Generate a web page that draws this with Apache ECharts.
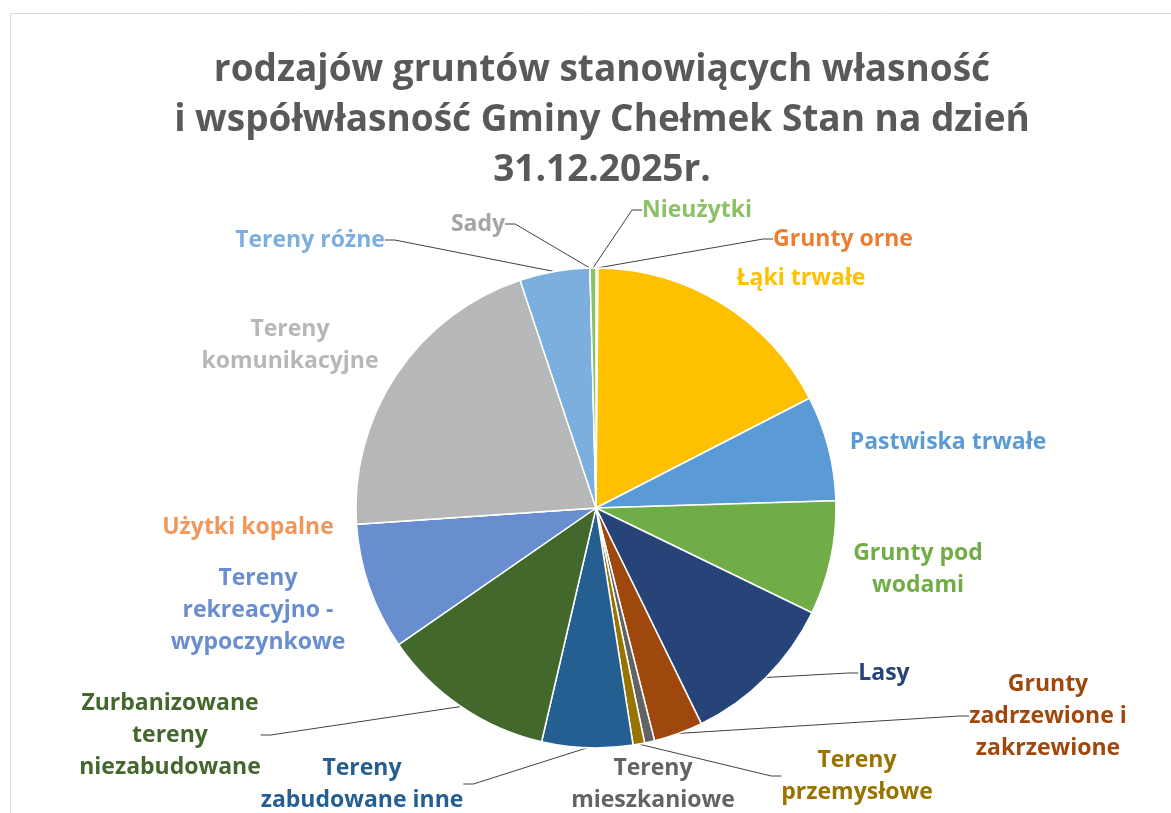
<!DOCTYPE html>
<html>
<head>
<meta charset="utf-8">
<script src="https://cdn.jsdelivr.net/npm/echarts@6/dist/echarts.min.js"></script>
<style>
  html, body { margin: 0; padding: 0; background: #fff; }
  #chart { width: 1171px; height: 813px; }
</style>
</head>
<body>
<div id="chart"></div>
<script>
// dane - udział procentowy
var categories = ['Grunty orne', 'Łąki trwałe', 'Pastwiska trwałe', 'Grunty pod wodami', 'Lasy',
  'Grunty zadrzewione i zakrzewione', 'Tereny mieszkaniowe', 'Tereny przemysłowe', 'Tereny zabudowane inne',
  'Zurbanizowane tereny niezabudowane', 'Tereny rekreacyjno - wypoczynkowe', 'Użytki kopalne',
  'Tereny komunikacyjne', 'Tereny różne', 'Sady', 'Nieużytki'];
var values = [0.14, 17.3, 7.08, 7.67, 10.58, 3.31, 0.67, 0.78, 6.11, 11.72, 8.56, 0, 20.96, 4.72, 0, 0.40];

// etykiety z podziałem na wiersze
var labelNames = ['Grunty orne', 'Łąki trwałe', 'Pastwiska trwałe', 'Grunty pod\nwodami', 'Lasy',
  'Grunty\nzadrzewione i\nzakrzewione', 'Tereny\nmieszkaniowe', 'Tereny\nprzemysłowe', 'Tereny\nzabudowane inne',
  'Zurbanizowane\ntereny\nniezabudowane', 'Tereny\nrekreacyjno -\nwypoczynkowe', 'Użytki kopalne',
  'Tereny\nkomunikacyjne', 'Tereny różne', 'Sady', 'Nieużytki'];

var colors = ['#ED7D31', '#FFC000', '#5B9BD5', '#70AD47', '#264478', '#9E480E', '#636363', '#997300',
  '#255E91', '#43682B', '#698ED0', '#F1975A', '#B7B7B7', '#7CAFDD', '#A5A5A5', '#8CC168'];

// pozycje etykiet (środek bloku tekstu) i linie odniesienia
var labelPos = [[843, 239], [801, 278], [948, 442], [918, 569], [884, 673], [1048, 716], [653, 784], [857, 776],
  [362, 784], [170, 735], [258, 610], [248, 527], [290, 345], [310, 240], [478, 224], [697, 210]];
var showLine = [true, false, false, false, true, true, false, true, true, true, false, false, false, true, true, true];

var chart = echarts.init(document.getElementById('chart'));

var pieData = categories.map(function (name, i) {
  return {
    name: name,
    value: values[i],
    itemStyle: { color: colors[i] },
    label: { color: colors[i] },
    labelLine: { show: showLine[i] }
  };
});

var option = {
  animation: false,
  title: {
    text: 'rodzajów gruntów stanowiących własność\ni współwłasność Gminy Chełmek Stan na dzień\n31.12.2025r.',
    left: 597,
    textAlign: 'center',
    top: 40,
    textStyle: {
      fontFamily: 'Open Sans',
      fontWeight: 'bold',
      fontSize: 37,
      lineHeight: 50,
      color: '#595959'
    }
  },
  graphic: [{
    type: 'rect',
    shape: { x: 10.5, y: 13.5, width: 1300, height: 900 },
    style: { fill: 'none', stroke: '#d9d9d9', lineWidth: 1 },
    silent: true
  }],
  series: [{
    type: 'pie',
    center: [596, 508],
    radius: 240,
    startAngle: 90,
    clockwise: true,
    avoidLabelOverlap: false,
    itemStyle: { borderColor: '#fff', borderWidth: 1.5 },
    label: {
      show: true,
      position: 'outside',
      fontFamily: 'Open Sans',
      fontWeight: 'bold',
      fontSize: 23,
      lineHeight: 32,
      align: 'center',
      formatter: function (p) { return labelNames[p.dataIndex]; }
    },
    labelLine: {
      length: 10,
      length2: 10,
      lineStyle: { color: '#404040', width: 1 }
    },
    labelLayout: function (p) {
      var pos = labelPos[p.dataIndex];
      return { x: pos[0], y: pos[1], align: 'center', verticalAlign: 'middle' };
    },
    emphasis: { disabled: true },
    data: pieData
  }]
};

chart.setOption(option);
</script>
</body>
</html>
